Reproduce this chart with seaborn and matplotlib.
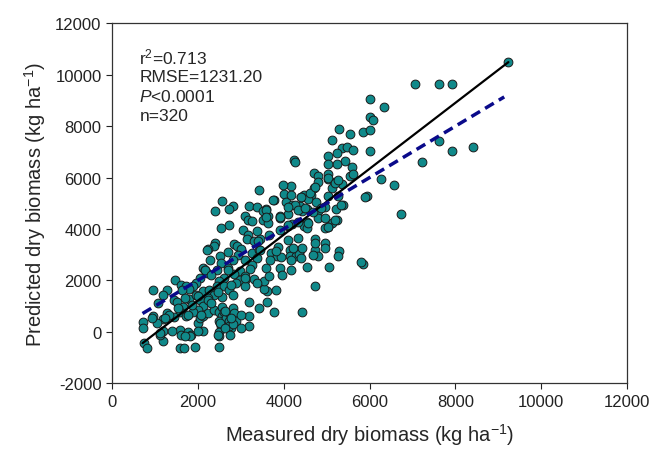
import numpy as np
import pandas as pd
import matplotlib
matplotlib.use("Agg")
import matplotlib.pyplot as plt
import seaborn as sns

# Measured (x) and predicted (y) dry biomass, kg/ha
measured = [
    9236, 7054, 7619, 7926, 6020, 6327, 6003, 6084, 5292, 5535, 5842, 6020, 5131, 7619, 8411, 7926, 6020,
    5357, 5478, 5624, 5236, 5034, 7215, 5438, 5236, 5034, 4242, 4266, 5600, 4710, 5034, 4791, 5535, 5616,
    5034, 4791, 5196, 5357, 6269, 6576, 4161, 5115, 4710, 3434, 5939, 5034, 4630, 4468, 4008, 4404, 4573,
    5260, 3782, 4065, 2569, 2812, 2731, 2408, 3200, 3378, 3596, 4371, 4185, 4751, 4969, 5220, 5373, 4549,
    4428, 4808, 4105, 3515, 3636, 3095, 3176, 3904, 3515, 4808, 4549, 5236, 5115, 4185, 3904, 2731, 2529,
    3257, 3636, 4485, 5034, 4953, 6730, 3055, 4105, 3904, 4549, 3378, 3176, 3669, 4105, 4727, 4969, 3135,
    3458, 3297, 2408, 2368, 2852, 2917, 3014, 2691, 2505, 2246, 2206, 2933, 3257, 3434, 3701, 3863, 4145,
    4388, 4145, 4283, 4347, 4428, 4727, 4808, 5292, 3839, 3944, 3378, 3095, 2287, 2545, 2812, 2125, 2165,
    2691, 2448, 3257, 3216, 3596, 3904, 4161, 4549, 5050, 5842, 2973, 2852, 3095, 3297, 3095, 2973, 2893,
    2610, 2489, 2222, 2044, 1947, 1883, 1479, 1600, 1721, 1786, 1640, 953, 1277, 1196, 1438, 1075, 1519,
    1802, 1964, 2125, 2270, 2448, 2610, 2731, 2812, 2569, 2368, 2246, 2044, 2125, 2004, 1883, 1656, 1576,
    1721, 1438, 1277, 1317, 1196, 1059, 953, 727, 711, 1196, 1196, 1115, 735, 816, 1576, 1600, 1761,
    1842, 1818, 1576, 1680, 1923, 2125, 2004, 2044, 2125, 2246, 2368, 2489, 2569, 2569, 2489, 2529, 2489,
    2489, 2489, 2610, 2650, 2731, 2731, 2771, 2812, 2852, 2812, 2893, 2715, 2812, 3200, 3200, 3200, 3434,
    3620, 3620, 3539, 3782, 3822, 4428, 4727, 3539, 3669, 3952, 3378, 3095,
    3752, 3984, 4179, 4256, 4411, 4605, 4721, 5031, 5186, 5264, 5884, 3597, 3597, 3907, 4101, 4333,
    4488, 4682, 4876, 5341, 4953, 4566, 4333, 4101, 5186, 5031, 4333, 4217, 4721, 4953, 5264, 4682,
    4411, 4179, 3674, 3442, 3403, 3829, 5806,
    2163, 2318, 2706, 3094, 2783, 2473, 2240, 2008, 1853, 1698, 1543, 1776, 2085, 2318, 2628, 2783,
    2512, 2628, 3016, 3016, 2473, 2745, 2008, 1698, 1388, 1116, 923, 1233,
]
predicted = [
    10496, 9652, 9652, 9652, 9041, 8755, 8353, 8236, 7872, 7716, 7781, 7846, 7456, 7417, 7196, 7054, 7028,
    7157, 7183, 7067, 6963, 6833, 6625, 6638, 6547, 6547, 6677, 6599, 6417, 6183, 6157, 6053, 6079, 6157,
    5949, 5820, 5833, 5768, 5949, 5729, 5690, 5599, 5599, 5508, 5300, 5300, 5339, 5339, 5378, 5235, 5170,
    5274, 5118, 5040, 5079, 4884, 4780, 4689, 4910, 4858, 4793, 4884, 4949, 5040, 4858, 4780, 4949, 4780,
    4689, 4689, 4598, 4689, 4494, 4494, 4364, 4430, 4364, 4430, 4261, 4364, 4235, 4209, 4494, 4170, 4040,
    4300, 4235, 4118, 4079, 4040, 4598, 3975, 4105, 3975, 4040, 3910, 3780, 3780, 3559, 3611, 3455, 3611,
    3611, 3520, 3455, 3351, 3429, 3351, 3222, 3092, 2936, 3222, 3196, 2997, 3066, 3196, 3066, 3300, 3196,
    3196, 2936, 2962, 3040, 3261, 3196, 2962, 3157, 2936, 2910, 2871, 2806, 2806, 2676, 2780, 2481, 2390,
    2481, 2416, 2611, 2442, 2481, 2481, 2416, 2520, 2520, 2650, 2351, 2260, 2156, 2052, 2026, 2000, 1897,
    2091, 1987, 2286, 2091, 1897, 1767, 2000, 1832, 1767, 1663, 1637, 1637, 1637, 1442, 1247, 1117, 1143,
    1273, 1442, 1572, 1611, 1767, 1767, 1611, 1442, 1351, 1442, 1312, 1221, 987, 857, 753, 961, 753,
    623, 559, 727, 662, 494, 338, 623, 364, 143, 13, -377, -117, -442, -637, 52, -117, -26,
    -117, -182, -637, -637, -572, 13, 338, 533, 598, 727, 857, 753, 961, 598, 403, 208, -26,
    -156, -598, 753, 533, 727, 403, 143, 922, 727, 468, 429, 234, 312, 1143, 623, 208, 922,
    1143, 1572, 1663, 753, 1611, 753, 1793, 1961, 2182, 2221, 1897, 1767,
    5134, 5718, 5329, 4940, 5264, 5394, 5653, 5977, 5783, 5912, 5264, 4745, 4485, 4485, 4874, 4745,
    4809, 4680, 4809, 4938, 4420, 4225, 4290, 4160, 4355, 4096, 3641, 3252, 3447, 3252, 2954, 3004,
    2874, 2809, 2809, 3199, 3523, 3134, 2711,
    2411, 2217, 2411, 2087, 1828, 1568, 1244, 1374, 1050, 1309, 920, 661, 661, 1115, 790, 531,
    337, 142, 661, 142, -118, -118, 12, -182, 12, -53, 531, 531,
]

# Regression line and 1:1 line end points (kg/ha)
fit_x = [711, 9236]
fit_y = [-442, 10493]
line11_x = [711, 9139]
line11_y = [711, 9139]

stats_lines = ["r$^{2}$=0.713", "RMSE=1231.20", "$\\mathit{P}$<0.0001", "n=320"]

df = pd.DataFrame({"measured": measured, "predicted": predicted})

sns.set_style("ticks")
plt.rcParams["font.family"] = ["Liberation Sans", "DejaVu Sans"]
plt.rcParams["mathtext.fontset"] = "custom"
plt.rcParams["mathtext.rm"] = "Liberation Sans"
plt.rcParams["mathtext.it"] = "Liberation Sans:italic"
plt.rcParams["axes.unicode_minus"] = False

fig = plt.figure(figsize=(6.49, 4.52), dpi=100)
ax = fig.add_axes([0.1726, 0.150, 0.7935, 0.796])

sns.scatterplot(data=df, x="measured", y="predicted", ax=ax, s=40,
                color="#10898a", edgecolor="#1a1a1a", linewidth=0.7, zorder=3)
ax.plot(fit_x, fit_y, color="black", lw=1.6, zorder=4)
ax.plot(line11_x, line11_y, color="#0a0a8a", lw=2.5, ls=(0, (2.9, 1.7)), zorder=4)

ax.set_xlim(0, 12000)
ax.set_ylim(-2000, 12000)
ax.set_xticks(np.arange(0, 12001, 2000))
ax.set_yticks(np.arange(-2000, 12001, 2000))
ax.tick_params(direction="out", length=4, width=0.8, labelsize=12, colors="#222222")
for sp in ax.spines.values():
    sp.set_visible(True)
    sp.set_linewidth(0.9)
    sp.set_color("#333333")

ax.set_xlabel("Measured dry biomass (kg ha$^{-1}$)", fontsize=14.5, labelpad=9)
ax.set_ylabel("Predicted dry biomass (kg ha$^{-1}$)", fontsize=14.5, labelpad=5)

for i, t in enumerate(stats_lines):
    ax.text(0.053, 0.908 - i * 0.055, t, transform=ax.transAxes, fontsize=12.5, va="center", ha="left")

fig.savefig("out.png", dpi=100)
